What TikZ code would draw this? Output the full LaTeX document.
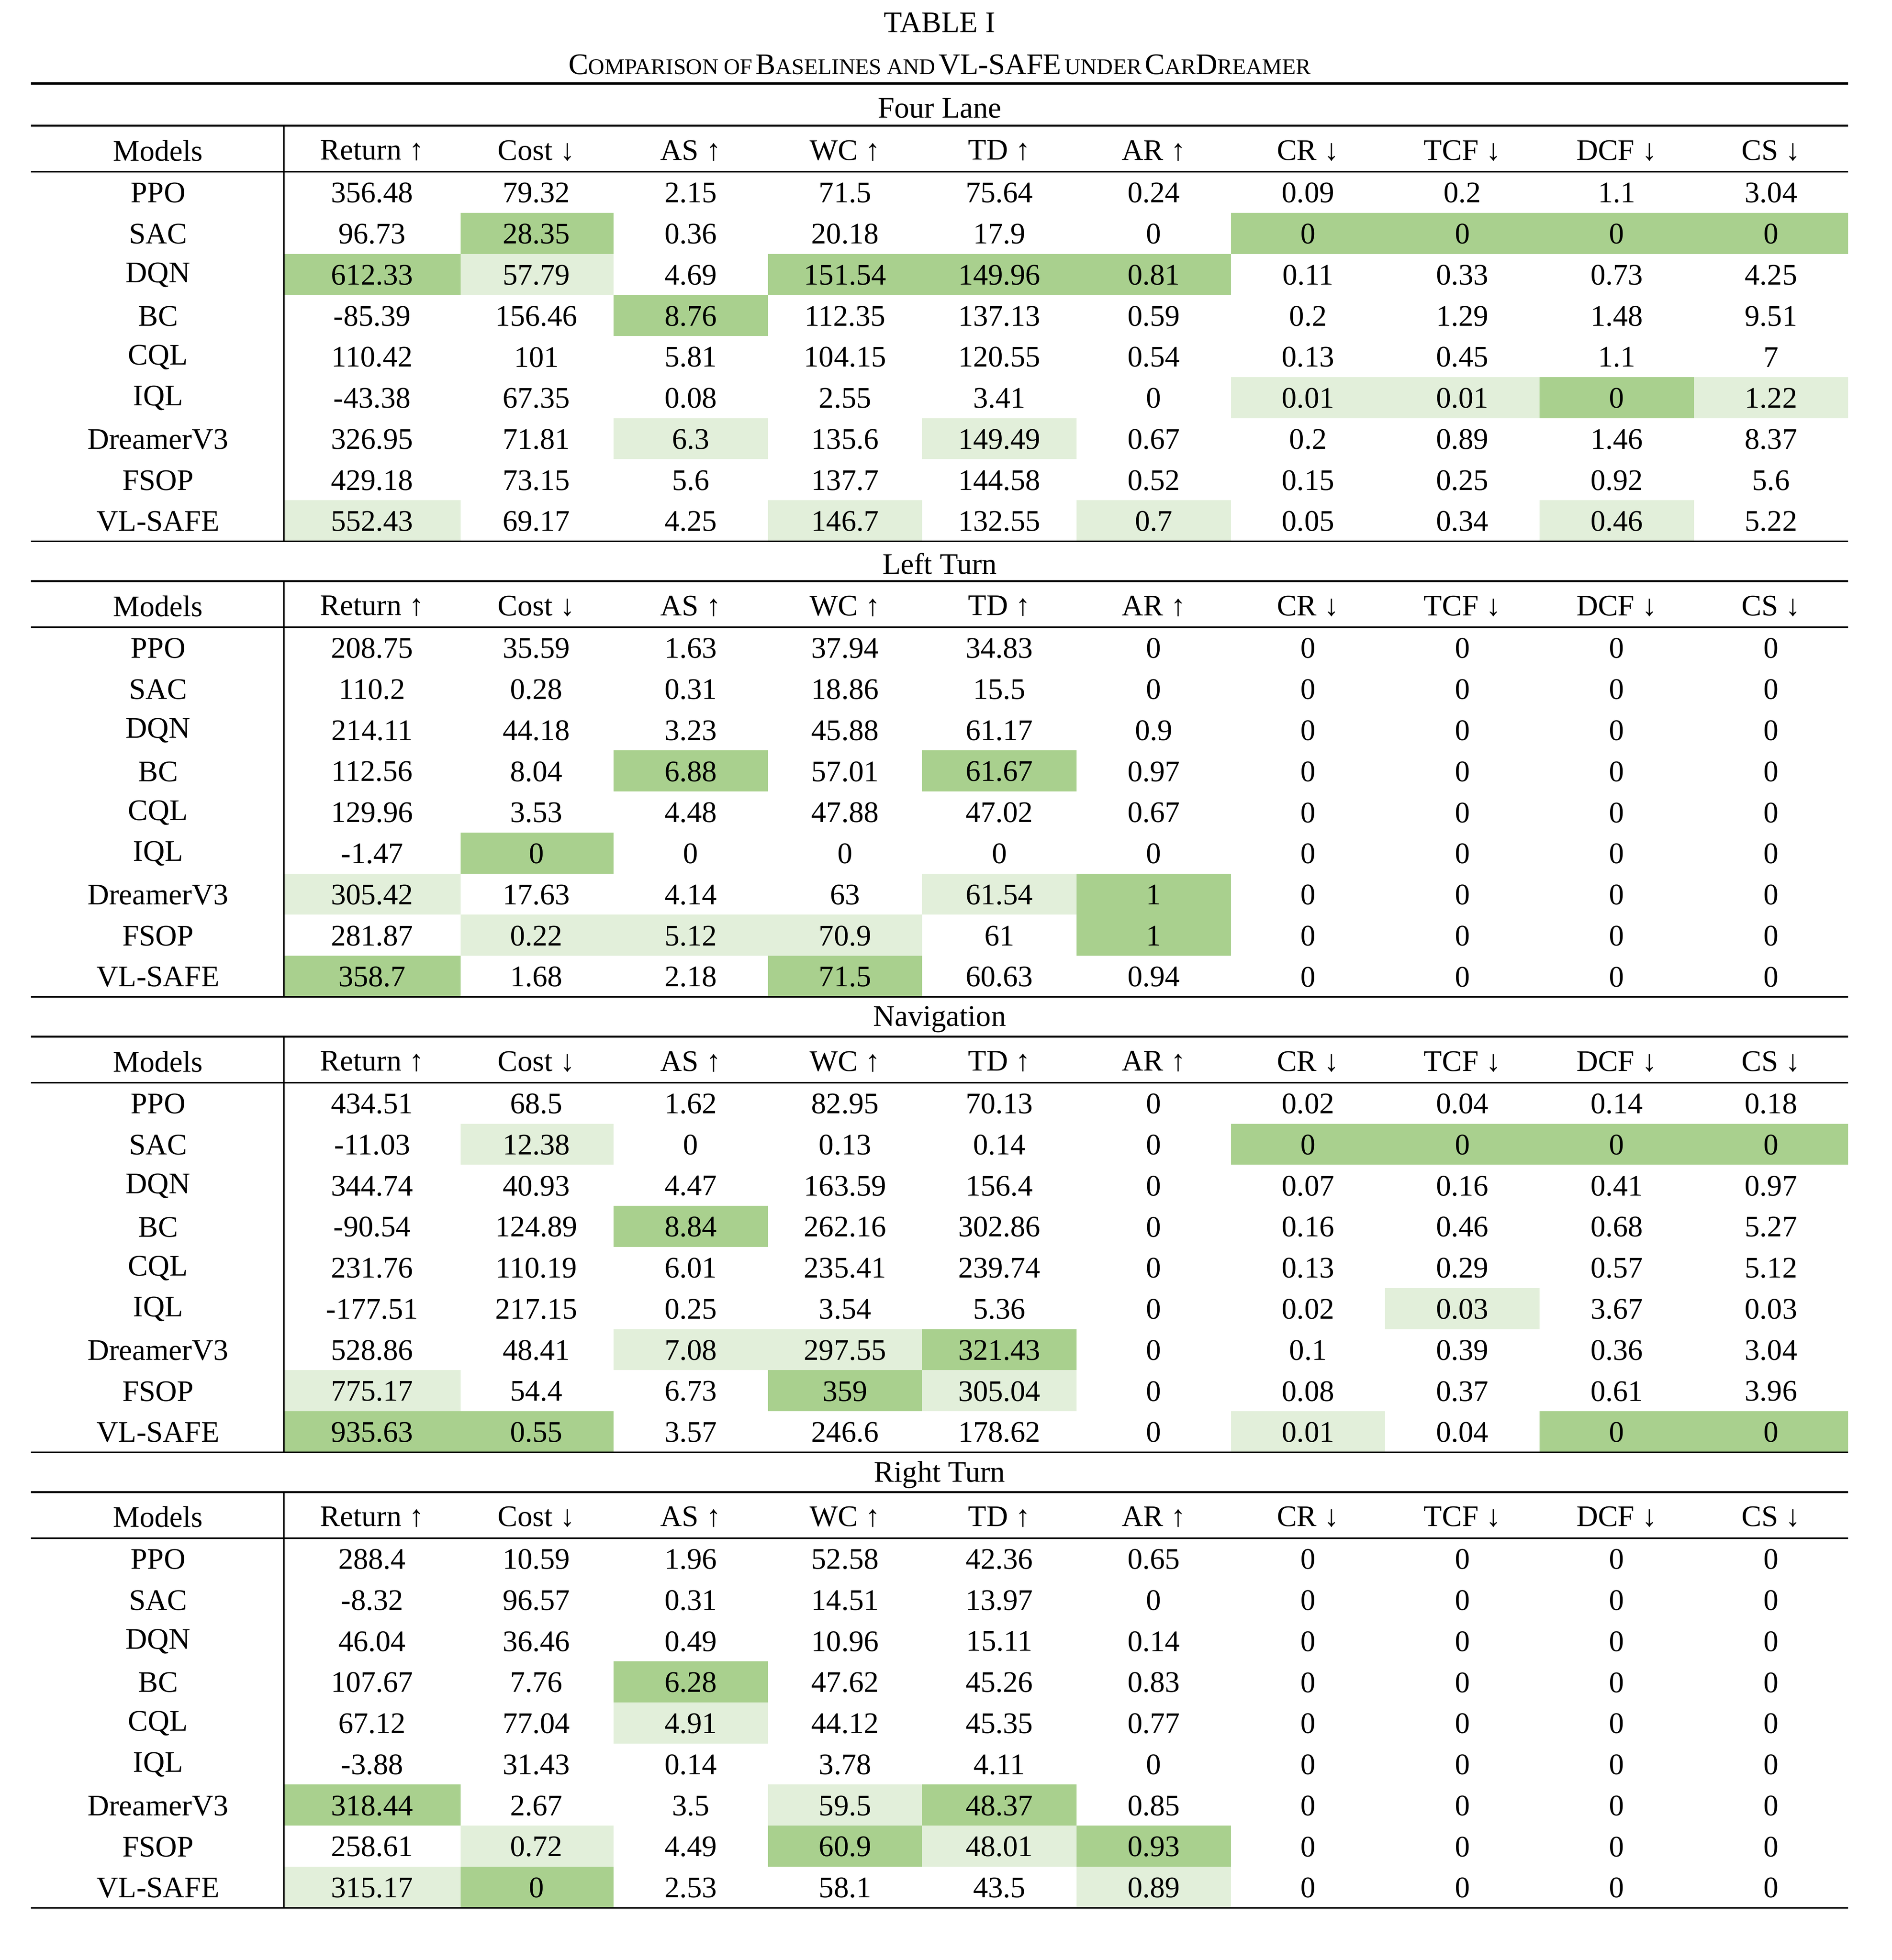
\documentclass[tikz,border=0pt]{standalone}
\usepackage{fontspec}
\setmainfont{Liberation Serif}
\definecolor{dk}{HTML}{A9D08E}
\definecolor{lt}{HTML}{E2EFDA}
\def\colb{{25,228,370,493,617,741,865,989,1113,1237,1361,1485}}
\def\colc{{127,299,431,555,679,803,927,1051,1175,1299,1423}}
\newcommand{\bigsm}[2]{{\fontsize{24}{28}\selectfont #1}{\fontsize{18}{22}\selectfont #2}}
\newcommand{\sect}[4]{%
  \foreach \r/\c/\k in {#4}{%
    \pgfmathsetmacro{\xa}{\colb[\c]}\pgfmathsetmacro{\xb}{\colb[\c+1]}%
    \fill[\k] (\xa,138+33*\r+#1) rectangle (\xb,171+33*\r+#1);}
  \node[cell] (t#1) at (755,87+#1) {#2};
  \draw[rule] (25,101+#1) -- (1485,101+#1);
  \draw[rule] (25,138+#1) -- (1485,138+#1);
  \draw[rule] (25,435+#1) -- (1485,435+#1);
  \draw[rule] (228,101+#1) -- (228,435+#1);
  \foreach \t [count=\i from 0] in {Models,Return ↑,Cost ↓,AS ↑,WC ↑,TD ↑,AR ↑,CR ↓,TCF ↓,DCF ↓,CS ↓}{%
    \pgfmathsetmacro{\xc}{\colc[\i]}\node[cell] at (\xc,121+#1) {\t};}
  \foreach \row [count=\r from 0] in {#3}{%
    \foreach \v [count=\i from 0] in \row {%
      \pgfmathsetmacro{\xc}{\colc[\i]}\node[cell] at (\xc,155+33*\r+#1) {\v};}}
}
\begin{document}
\begin{tikzpicture}[x=1pt,y=-1pt,
  cell/.style={font=\fontsize{24}{28}\selectfont,inner sep=0pt,anchor=center},
  rule/.style={line width=1.4pt}]
\useasboundingbox (0,0) rectangle (1520,1575);
\node[cell] (title) at (755,18) {TABLE I};
\node[inner sep=0pt] (sub) at (755,52) {\bigsm{C}{OMPARISON OF} \bigsm{B}{ASELINES AND} {\fontsize{24}{28}\selectfont VL-SAFE} \bigsm{}{UNDER} \bigsm{C}{AR}\bigsm{D}{REAMER}};
\draw[line width=1.8pt] (25,67) -- (1485,67);
\sect{0}{Four Lane}{
 {PPO,356.48,79.32,2.15,71.5,75.64,0.24,0.09,0.2,1.1,3.04},
 {SAC,96.73,28.35,0.36,20.18,17.9,0,0,0,0,0},
 {DQN,612.33,57.79,4.69,151.54,149.96,0.81,0.11,0.33,0.73,4.25},
 {BC,-85.39,156.46,8.76,112.35,137.13,0.59,0.2,1.29,1.48,9.51},
 {CQL,110.42,101,5.81,104.15,120.55,0.54,0.13,0.45,1.1,7},
 {IQL,-43.38,67.35,0.08,2.55,3.41,0,0.01,0.01,0,1.22},
 {DreamerV3,326.95,71.81,6.3,135.6,149.49,0.67,0.2,0.89,1.46,8.37},
 {FSOP,429.18,73.15,5.6,137.7,144.58,0.52,0.15,0.25,0.92,5.6},
 {VL-SAFE,552.43,69.17,4.25,146.7,132.55,0.7,0.05,0.34,0.46,5.22}}
{1/2/dk,1/7/dk,1/8/dk,1/9/dk,1/10/dk,2/1/dk,2/2/lt,2/4/dk,2/5/dk,2/6/dk,3/3/dk,5/7/lt,5/8/lt,5/9/dk,5/10/lt,6/3/lt,6/5/lt,8/1/lt,8/4/lt,8/6/lt,8/9/lt}
\sect{366}{Left Turn}{
 {PPO,208.75,35.59,1.63,37.94,34.83,0,0,0,0,0},
 {SAC,110.2,0.28,0.31,18.86,15.5,0,0,0,0,0},
 {DQN,214.11,44.18,3.23,45.88,61.17,0.9,0,0,0,0},
 {BC,112.56,8.04,6.88,57.01,61.67,0.97,0,0,0,0},
 {CQL,129.96,3.53,4.48,47.88,47.02,0.67,0,0,0,0},
 {IQL,-1.47,0,0,0,0,0,0,0,0,0},
 {DreamerV3,305.42,17.63,4.14,63,61.54,1,0,0,0,0},
 {FSOP,281.87,0.22,5.12,70.9,61,1,0,0,0,0},
 {VL-SAFE,358.7,1.68,2.18,71.5,60.63,0.94,0,0,0,0}}
{3/3/dk,3/5/dk,5/2/dk,6/1/lt,6/5/lt,6/6/dk,7/2/lt,7/3/lt,7/4/lt,7/6/dk,8/1/dk,8/4/dk}
\sect{732}{Navigation}{
 {PPO,434.51,68.5,1.62,82.95,70.13,0,0.02,0.04,0.14,0.18},
 {SAC,-11.03,12.38,0,0.13,0.14,0,0,0,0,0},
 {DQN,344.74,40.93,4.47,163.59,156.4,0,0.07,0.16,0.41,0.97},
 {BC,-90.54,124.89,8.84,262.16,302.86,0,0.16,0.46,0.68,5.27},
 {CQL,231.76,110.19,6.01,235.41,239.74,0,0.13,0.29,0.57,5.12},
 {IQL,-177.51,217.15,0.25,3.54,5.36,0,0.02,0.03,3.67,0.03},
 {DreamerV3,528.86,48.41,7.08,297.55,321.43,0,0.1,0.39,0.36,3.04},
 {FSOP,775.17,54.4,6.73,359,305.04,0,0.08,0.37,0.61,3.96},
 {VL-SAFE,935.63,0.55,3.57,246.6,178.62,0,0.01,0.04,0,0}}
{1/2/lt,1/7/dk,1/8/dk,1/9/dk,1/10/dk,3/3/dk,5/8/lt,6/3/lt,6/4/lt,6/5/dk,7/1/lt,7/4/dk,7/5/lt,8/1/dk,8/2/dk,8/7/lt,8/9/dk,8/10/dk}
\sect{1098}{Right Turn}{
 {PPO,288.4,10.59,1.96,52.58,42.36,0.65,0,0,0,0},
 {SAC,-8.32,96.57,0.31,14.51,13.97,0,0,0,0,0},
 {DQN,46.04,36.46,0.49,10.96,15.11,0.14,0,0,0,0},
 {BC,107.67,7.76,6.28,47.62,45.26,0.83,0,0,0,0},
 {CQL,67.12,77.04,4.91,44.12,45.35,0.77,0,0,0,0},
 {IQL,-3.88,31.43,0.14,3.78,4.11,0,0,0,0,0},
 {DreamerV3,318.44,2.67,3.5,59.5,48.37,0.85,0,0,0,0},
 {FSOP,258.61,0.72,4.49,60.9,48.01,0.93,0,0,0,0},
 {VL-SAFE,315.17,0,2.53,58.1,43.5,0.89,0,0,0,0}}
{3/3/dk,4/3/lt,6/1/dk,6/4/lt,6/5/dk,7/2/lt,7/4/dk,7/5/lt,7/6/dk,8/1/lt,8/2/dk,8/6/lt}
\end{tikzpicture}
\end{document}
